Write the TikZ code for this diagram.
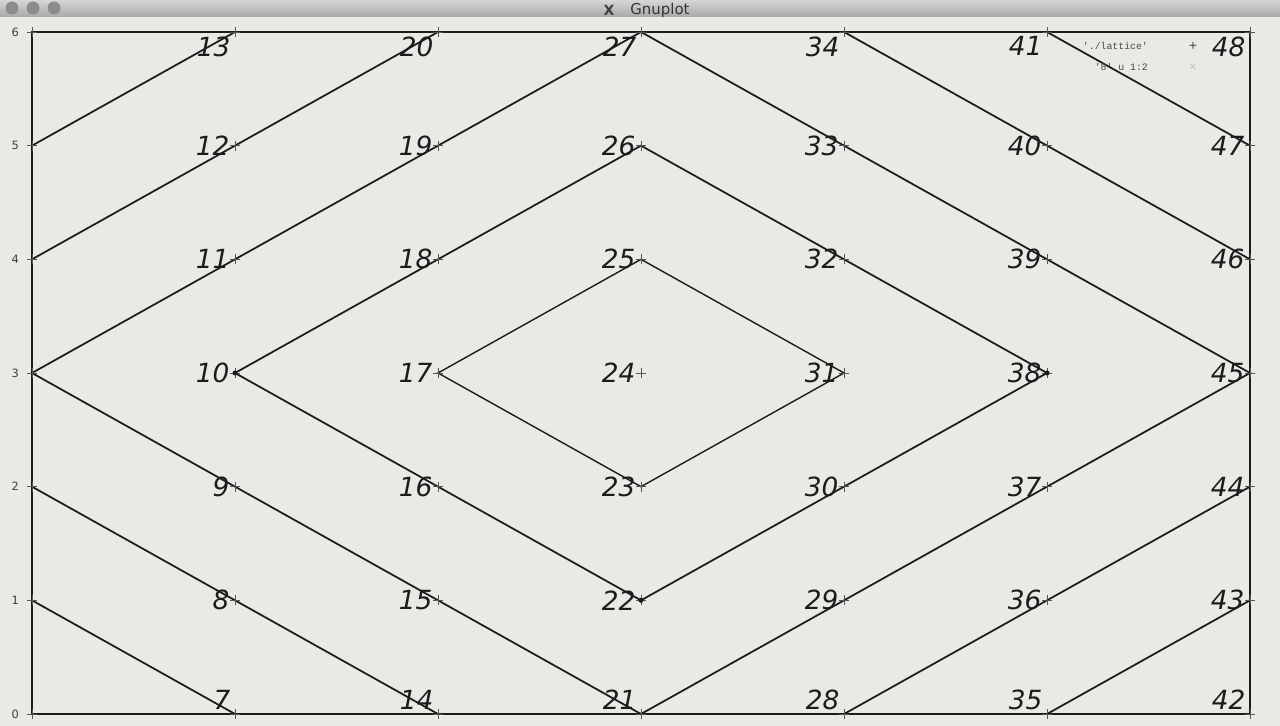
\documentclass[tikz,border=0pt]{standalone}
\usepackage{fontspec}
\newfontfamily\handfont{DejaVu Sans}
\setsansfont{DejaVu Sans}
\setmonofont{Liberation Mono}
\usetikzlibrary{positioning}

\definecolor{paper}{RGB}{234,233,230}
\definecolor{ink}{RGB}{28,28,28}

\begin{document}
\begin{tikzpicture}[x=0.02cm, y=-0.02cm,
      frame/.style={draw=ink, line width=1.4pt},
      lattice/.style={draw=ink, line width=1pt, line join=miter},
      crossmark/.style={draw=ink!75, line width=0.5pt},
      hand/.style={font=\handfont\itshape\fontsize{15}{15}\selectfont, text=ink, inner sep=1pt},
      tcklbl/.style={font=\sffamily\fontsize{6.5}{6.5}\selectfont, text=ink!85},
      keylbl/.style={font=\ttfamily\fontsize{5.6}{5.6}\selectfont, text=ink!80, inner sep=1pt},
    ]
    \useasboundingbox (0,0) rectangle (1280,726);
    % window: title bar and plot area
    \fill[paper] (0,17) rectangle (1280,726);
    \fill[top color=black!16, bottom color=black!34] (0,0) rectangle (1280,17);
    \foreach \x in {12,33,54} \fill[black!45] (\x,8) circle (6.5);
    \node[font=\sffamily\bfseries\fontsize{8}{8}\selectfont, text=black!75] (xlogo) at (609,10) {X};
    \node[font=\sffamily\fontsize{8.5}{8.5}\selectfont, text=black!80, right=2pt of xlogo] (title) {Gnuplot};
    % lattice points: p(7x+y)
    \foreach \i in {0,...,6}
      \foreach \j in {0,...,6} {
        \pgfmathtruncatemacro\n{7*\i+\j}
        \coordinate (p\n) at ({32+203*\i},{714-113.67*\j});
      }
    % border and y tick labels
    \draw[frame] (p0) rectangle (p48);
    \foreach \j in {0,...,6}
      \node[tcklbl, left=4pt of p\j] (tick\j) {\j};
    % the paths
    \draw[lattice] (p3) -- (p21) -- (p45) -- (p27) -- cycle;
    \draw[lattice] (p10) -- (p22) -- (p38) -- (p26) -- cycle;
    \draw[lattice, line width=0.8pt] (p17) -- (p23) -- (p31) -- (p25) -- cycle;
    \draw[lattice] (p1) -- (p7);
    \draw[lattice] (p2) -- (p14);
    \draw[lattice] (p4) -- (p20);
    \draw[lattice] (p5) -- (p13);
    \draw[lattice] (p28) -- (p44);
    \draw[lattice] (p35) -- (p43);
    \draw[lattice] (p34) -- (p46);
    \draw[lattice] (p41) -- (p47);
    % point marks
    \foreach \n in {0,...,48}
      \draw[crossmark] (p\n) ++(-5,0) -- ++(10,0) (p\n) ++(0,-5) -- ++(0,10);
    \foreach \n in {10,22,38}
      \fill[ink] (p\n) circle (2.5);
    % handwritten point numbers
    \foreach \i in {1,...,6}
      \foreach \j/\side in {0/above left,1/left,2/left,3/left,4/left,5/left,6/below left} {
        \pgfmathtruncatemacro\n{7*\i+\j}
        \node[hand, \side=2pt of p\n] (num\n) {\n};
      }
    % key
    \node[keylbl, anchor=east] (key1) at (1150,46) {'./lattice'};
    \node[keylbl, anchor=east] (key2) at (1150,67) {'8' u 1:2};
    \node[keylbl, font=\ttfamily\fontsize{8}{8}\selectfont] (smp1) at (1193,46) {+};
    \node[keylbl, text=black!30] (smp2) at (1193,67) {$\times$};
  \end{tikzpicture}
\end{document}
